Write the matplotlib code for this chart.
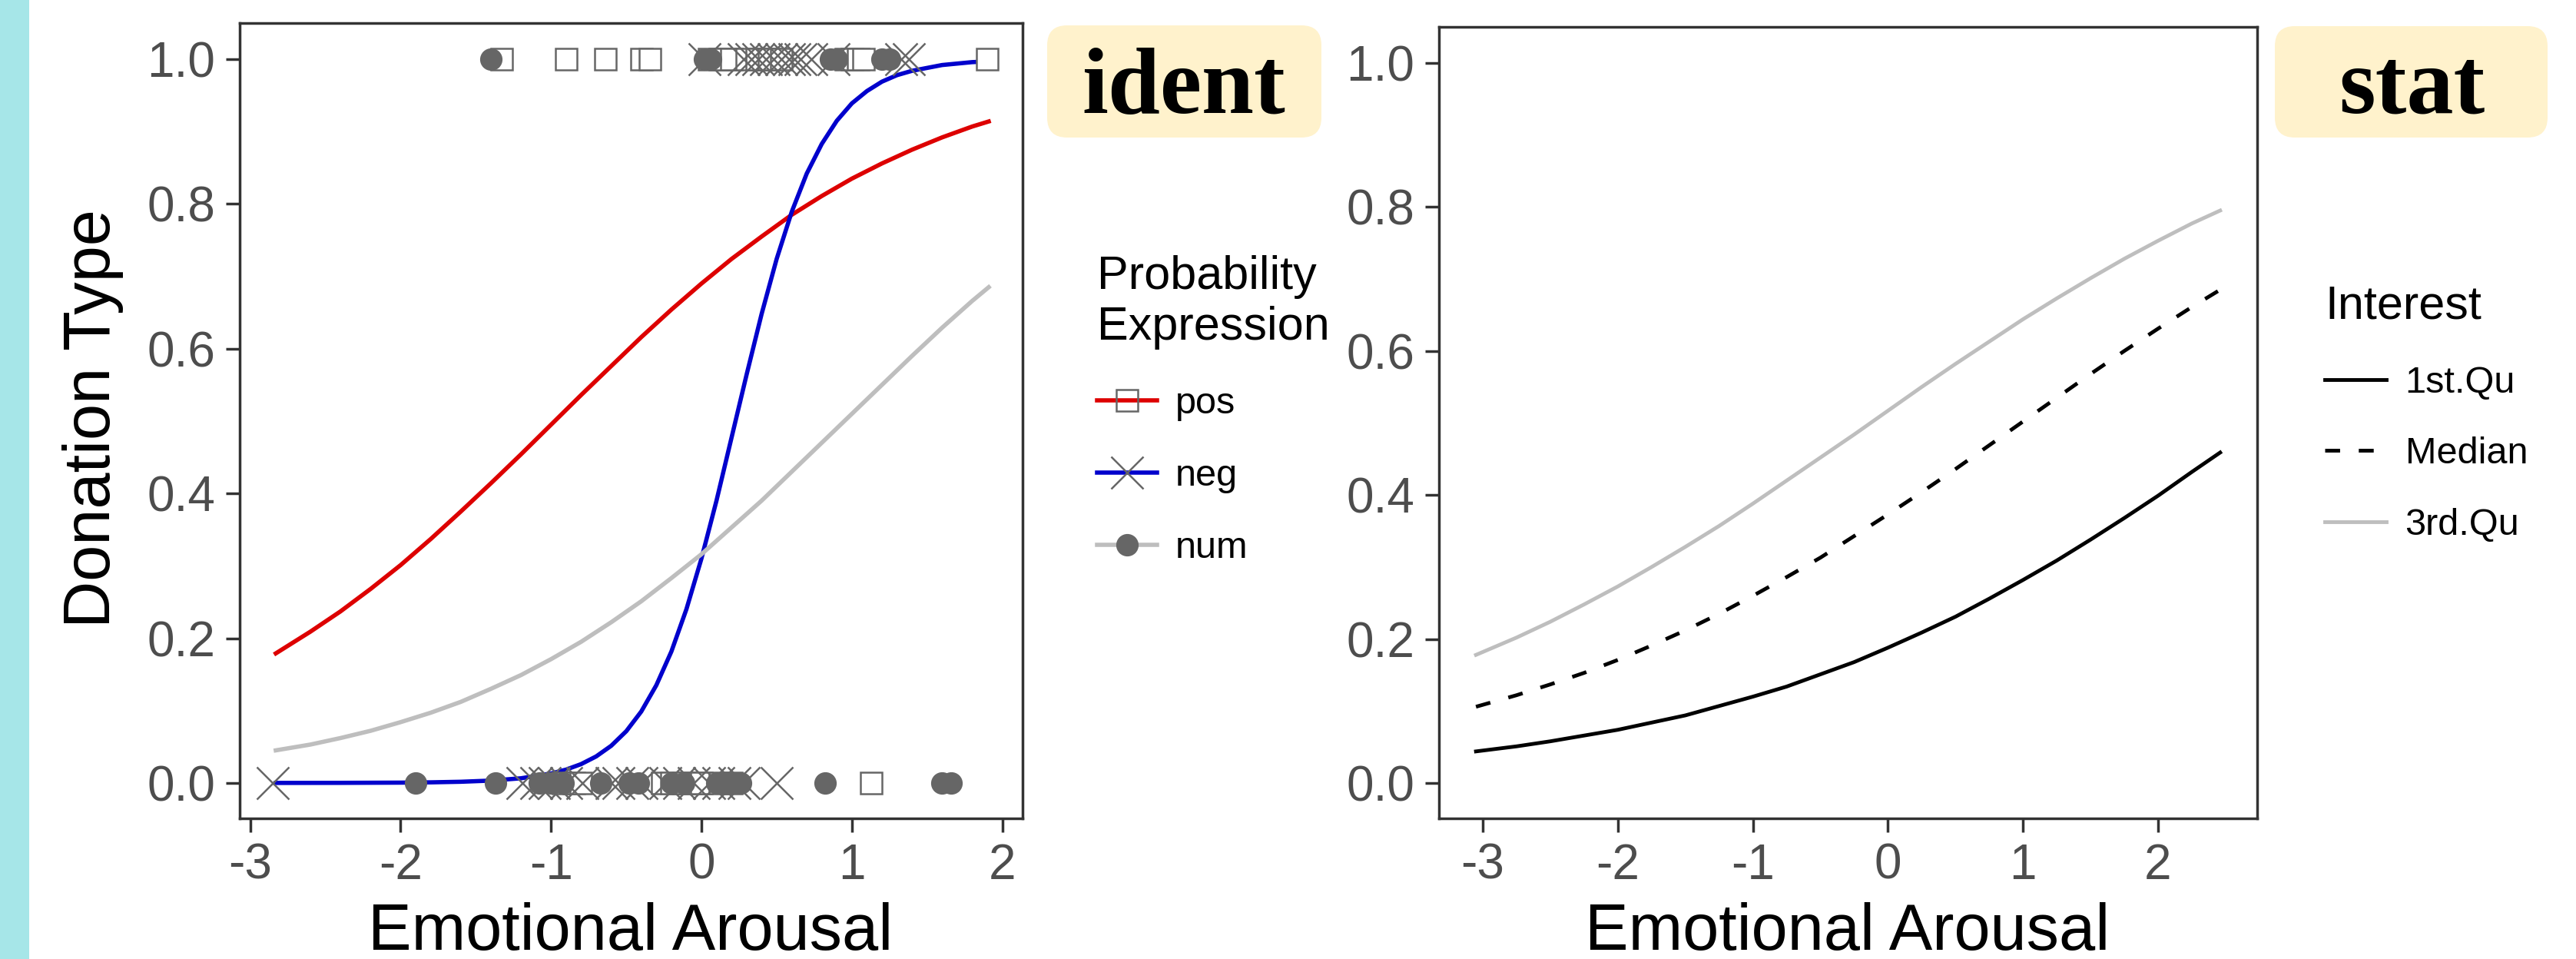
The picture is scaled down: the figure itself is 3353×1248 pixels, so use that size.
import matplotlib
matplotlib.use('Agg')
import matplotlib.pyplot as plt
from matplotlib.lines import Line2D
from matplotlib.patches import Rectangle, FancyBboxPatch
from matplotlib.ticker import FormatStrFormatter

plt.rcParams['font.family'] = ['Liberation Sans', 'DejaVu Sans']
plt.rcParams['axes.unicode_minus'] = False

W, H = 3353, 1248

# ---- left panel: fitted curves per probability expression ----
pos_cx = [-2.83, -2.6, -2.4, -2.2, -2.0, -1.8, -1.6, -1.4, -1.2, -1.0, -0.8, -0.6, -0.4, -0.2,
          0.0, 0.2, 0.4, 0.6, 0.8, 1.0, 1.2, 1.4, 1.6, 1.8, 1.91]
pos_cy = [0.179, 0.209, 0.237, 0.268, 0.301, 0.337, 0.375, 0.414, 0.454, 0.495, 0.536, 0.576,
          0.616, 0.654, 0.690, 0.724, 0.755, 0.785, 0.811, 0.835, 0.856, 0.875, 0.892, 0.907, 0.914]

neg_cx = [-2.83, -2.4, -2.0, -1.8, -1.6, -1.4, -1.2, -1.0, -0.9, -0.8, -0.7, -0.6, -0.5, -0.4,
          -0.3, -0.2, -0.1, 0.0, 0.1, 0.2, 0.3, 0.4, 0.5, 0.6, 0.7, 0.8, 0.9, 1.0, 1.1, 1.2,
          1.3, 1.4, 1.6, 1.8, 1.91]
neg_cy = [0.0, 0.0001, 0.0004, 0.0008, 0.0016, 0.0032, 0.0064, 0.013, 0.0184, 0.026, 0.0366,
          0.0513, 0.0714, 0.0987, 0.135, 0.1815, 0.240, 0.310, 0.390, 0.477, 0.564, 0.648,
          0.724, 0.789, 0.842, 0.883, 0.915, 0.939, 0.956, 0.969, 0.978, 0.984, 0.992, 0.996, 0.997]

num_cx = [-2.83, -2.6, -2.4, -2.2, -2.0, -1.8, -1.6, -1.4, -1.2, -1.0, -0.8, -0.6, -0.4, -0.2,
          0.0, 0.2, 0.4, 0.6, 0.8, 1.0, 1.2, 1.4, 1.6, 1.8, 1.91]
num_cy = [0.045, 0.053, 0.062, 0.072, 0.084, 0.097, 0.112, 0.130, 0.149, 0.171, 0.195, 0.222,
          0.251, 0.283, 0.316, 0.353, 0.390, 0.430, 0.470, 0.510, 0.550, 0.590, 0.629, 0.666, 0.685]

# observed points (Donation Type = 1 / 0)
pos_x1 = [-1.33, -0.90, -0.64, -0.40, -0.34, 0.05, 0.12, 0.16, 0.20, 0.30, 0.37, 0.45, 0.53,
          0.96, 1.00, 1.04, 1.08, 1.90]
neg_x1 = [0.02, 0.28, 0.33, 0.38, 0.43, 0.48, 0.53, 0.58, 0.62, 0.66, 0.73, 0.88, 1.33, 1.38]
num_x1 = [-1.40, 0.02, 0.06, 0.86, 0.90, 1.20, 1.25]

pos_x0 = [-0.92, -0.85, -0.80, -0.26, -0.20, -0.12, -0.05, 0.00, 0.12, 0.20, 1.13]
neg_x0 = [-2.85, -1.19, -1.10, -1.04, -0.98, -0.90, -0.79, -0.60, -0.55, -0.46, -0.40,
          -0.24, -0.15, -0.05, 0.05, 0.11, 0.22, 0.28, 0.50]
num_x0 = [-1.90, -1.37, -1.08, -1.00, -0.92, -0.67, -0.48, -0.42, -0.20, -0.12,
          0.10, 0.15, 0.20, 0.26, 0.82, 1.60, 1.66]

# ---- right panel: curves per interest level ----
int_x = [-3.05, -2.75, -2.5, -2.25, -2.0, -1.75, -1.5, -1.25, -1.0, -0.75, -0.5, -0.25, 0.0,
         0.25, 0.5, 0.75, 1.0, 1.25, 1.5, 1.75, 2.0, 2.25, 2.46]
q1_y = [0.044, 0.051, 0.058, 0.066, 0.074, 0.084, 0.094, 0.107, 0.120, 0.134, 0.151, 0.168,
        0.188, 0.209, 0.231, 0.256, 0.282, 0.309, 0.338, 0.368, 0.399, 0.432, 0.459]
med_y = [0.106, 0.122, 0.137, 0.153, 0.171, 0.191, 0.212, 0.235, 0.260, 0.286, 0.313, 0.343,
         0.373, 0.404, 0.436, 0.469, 0.502, 0.535, 0.568, 0.600, 0.631, 0.661, 0.685]
q3_y = [0.178, 0.202, 0.224, 0.248, 0.273, 0.300, 0.328, 0.357, 0.388, 0.420, 0.452, 0.484,
        0.517, 0.550, 0.582, 0.613, 0.644, 0.673, 0.701, 0.728, 0.753, 0.777, 0.795]

xticks = [-3, -2, -1, 0, 1, 2]
yticks = [0.0, 0.2, 0.4, 0.6, 0.8, 1.0]

RED = '#DD0000'
BLUE = '#0000CC'
LGREY = '#BEBEBE'
MGREY = '#666666'


def px_box(l, t, r, b):
    return [l / W, 1 - b / H, (r - l) / W, (b - t) / H]


def style(ax):
    for s in ax.spines.values():
        s.set_linewidth(2.5)
        s.set_color('#333333')
    ax.tick_params(length=13, width=2.5, color='#333333', labelsize=46,
                   labelcolor='#4D4D4D', pad=10)
    ax.set_xticks(xticks)
    ax.set_yticks(yticks)
    ax.yaxis.set_major_formatter(FormatStrFormatter('%.1f'))
    ax.set_ylim(-0.049, 1.05)


fig = plt.figure(figsize=(W / 100, H / 100), dpi=100)

# background decorations in pixel coordinates
bg = fig.add_axes([0, 0, 1, 1])
bg.set_xlim(0, W)
bg.set_ylim(H, 0)
bg.axis('off')
bg.add_patch(Rectangle((0, 0), 38, H, color='#A6E6E8', lw=0))
bg.add_patch(FancyBboxPatch((1363, 33), 357, 146, boxstyle='round,pad=0,rounding_size=26',
                            fc='#FFF2CC', ec='none'))
bg.add_patch(FancyBboxPatch((2961, 34), 355, 145, boxstyle='round,pad=0,rounding_size=26',
                            fc='#FFF2CC', ec='none'))
bg.text(1541, 147, 'ident', fontsize=88, fontweight='bold', family='Liberation Serif',
        ha='center', va='baseline')
bg.text(3139, 147, 'stat', fontsize=88, fontweight='bold', family='Liberation Serif',
        ha='center', va='baseline')

# ---- left panel ----
ax1 = fig.add_axes(px_box(312, 30, 1331, 1065))
style(ax1)
ax1.set_xlim(-3.07, 2.135)
ax1.plot(pos_cx, pos_cy, color=RED, lw=4, zorder=2)
ax1.plot(neg_cx, neg_cy, color=BLUE, lw=4, zorder=2)
ax1.plot(num_cx, num_cy, color=LGREY, lw=4, zorder=2)

ax1.plot(pos_x1, [1] * len(pos_x1), 's', ms=20, mfc='white', mec=MGREY, mew=1.8, zorder=3)
ax1.plot(pos_x0, [0] * len(pos_x0), 's', ms=20, mfc='white', mec=MGREY, mew=1.8, zorder=3)
ax1.plot(neg_x1, [1] * len(neg_x1), 'x', ms=30, mec=MGREY, mew=1.8, zorder=3)
ax1.plot(neg_x0, [0] * len(neg_x0), 'x', ms=30, mec=MGREY, mew=1.8, zorder=3)
ax1.plot(num_x1, [1] * len(num_x1), 'o', ms=20, mfc=MGREY, mec=MGREY, zorder=3)
ax1.plot(num_x0, [0] * len(num_x0), 'o', ms=20, mfc=MGREY, mec=MGREY, zorder=3)

h1 = [Line2D([], [], color=RED, lw=4, marker='s', ms=20, mfc='none', mec=MGREY, mew=1.8),
      Line2D([], [], color=BLUE, lw=4, marker='x', ms=30, mec=MGREY, mew=1.8),
      Line2D([], [], color=LGREY, lw=4, marker='o', ms=20, mfc=MGREY, mec=MGREY)]
ax1.legend(handles=h1, labels=['pos', 'neg', 'num'], title='Probability\nExpression',
           loc='upper left', bbox_to_anchor=(1428 / W, 1 - 332 / H),
           bbox_transform=fig.transFigure, frameon=False, fontsize=35,
           title_fontsize=44, handlelength=1.6, handletextpad=0.5,
           labelspacing=1.0, borderpad=0, borderaxespad=0, alignment='left',
           numpoints=1)

fig.text(143 / W, 1 - 545 / H, 'Donation Type', fontsize=61, rotation=90,
         rotation_mode='anchor', ha='center', va='baseline')
fig.text(821 / W, 1 - 1236 / H, 'Emotional Arousal', fontsize=61, ha='center', va='baseline')

# ---- right panel ----
ax2 = fig.add_axes(px_box(1873, 35, 2938, 1065))
style(ax2)
ax2.set_xlim(-3.324, 2.734)
ax2.plot(int_x, q1_y, color='black', lw=3.5, label='1st.Qu')
ax2.plot(int_x, med_y, color='black', lw=3.5, ls=(0, (4, 5)), label='Median')
ax2.plot(int_x, q3_y, color=LGREY, lw=3.5, label='3rd.Qu')
ax2.legend(title='Interest', loc='upper left', bbox_to_anchor=(3026 / W, 1 - 371 / H),
           bbox_transform=fig.transFigure, frameon=False, fontsize=35, title_fontsize=44,
           handlelength=1.65, handletextpad=0.5, labelspacing=0.98, borderpad=0,
           borderaxespad=0, alignment='left')

fig.text(2405 / W, 1 - 1236 / H, 'Emotional Arousal', fontsize=61, ha='center', va='baseline')

fig.savefig('out.png', dpi=100)
